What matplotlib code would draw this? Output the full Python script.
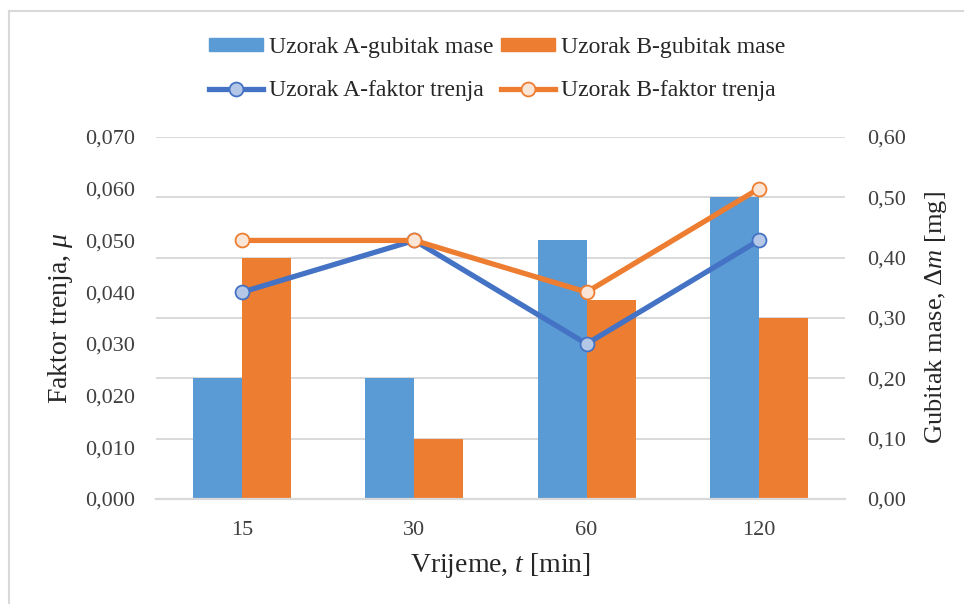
import matplotlib
matplotlib.use("Agg")
import matplotlib.pyplot as plt
import numpy as np
from matplotlib.patches import Patch
from matplotlib.lines import Line2D

plt.rcParams['font.family'] = ['Liberation Serif', 'DejaVu Serif']
plt.rcParams['mathtext.fontset'] = 'custom'
plt.rcParams['mathtext.rm'] = 'Liberation Serif'
plt.rcParams['mathtext.it'] = 'Liberation Serif:italic'

# Data
categories = ['15', '30', '60', '120']
mass_loss_a = [0.20, 0.20, 0.43, 0.50]
mass_loss_b = [0.40, 0.10, 0.33, 0.30]
friction_a = [0.040, 0.050, 0.030, 0.050]
friction_b = [0.050, 0.050, 0.040, 0.060]
left_ticks = [0.000, 0.010, 0.020, 0.030, 0.040, 0.050, 0.060, 0.070]
right_ticks = [0.00, 0.10, 0.20, 0.30, 0.40, 0.50, 0.60]

blue_bar = '#5B9BD5'
orange = '#ED7D31'
blue_line = '#4472C4'
grid_c = '#D9D9D9'
text_c = '#404040'
label_c = '#262626'

LW = 3.8
MS = 10

fig = plt.figure(figsize=(9.64, 6.04), dpi=100)
ax = fig.add_axes([156/964, 1-499/604, (845-156)/964, (499-137)/604])
ax2 = ax.twinx()

x = np.arange(len(categories))
w = 0.284

# bars on the secondary (mass loss) axis
ax2.bar(x - w/2, mass_loss_a, width=w, color=blue_bar, zorder=2)
ax2.bar(x + w/2, mass_loss_b, width=w, color=orange, zorder=2)
ax2.set_ylim(0, 0.60)
ax2.set_yticks(right_ticks)
ax2.set_yticklabels([f"{v:.2f}".replace('.', ',') for v in right_ticks])

# friction lines on the primary axis, drawn above the bars
ax.set_zorder(ax2.get_zorder() + 1)
ax.patch.set_visible(False)
ax.plot(x, friction_a, color=blue_line, lw=LW, marker='o', ms=MS,
        mfc='#B4C7E7', mec=blue_line, mew=1.3, zorder=4, solid_capstyle='round')
ax.plot(x, friction_b, color=orange, lw=LW, marker='o', ms=MS,
        mfc='#FBE5D6', mec=orange, mew=1.3, zorder=4, solid_capstyle='round')
ax.set_ylim(0, 0.070)
ax.set_yticks(left_ticks)
ax.set_yticklabels([f"{v:.3f}".replace('.', ',') for v in left_ticks])
ax.set_xlim(-0.5, len(categories) - 0.5)
ax.set_xticks(x)
ax.set_xticklabels(categories)

# gridlines drawn on the secondary axis so they sit behind the bars
for v in right_ticks[1:]:
    ax2.axhline(v, color=grid_c, lw=1.4, zorder=0)

for a in (ax, ax2):
    for s in a.spines.values():
        s.set_visible(False)
    a.tick_params(length=0, labelsize=16, colors=text_c)
ax.spines['bottom'].set_visible(True)
ax.spines['bottom'].set_color(grid_c)
ax.spines['bottom'].set_linewidth(1.6)
ax.tick_params(axis='y', pad=15)
ax2.tick_params(axis='y', pad=16)
ax.tick_params(axis='x', pad=16)

ax.set_xlabel(r'Vrijeme, $t$ [min]', fontsize=20, color=label_c, labelpad=8)
ax.set_ylabel(r'Faktor trenja, $\mu$', fontsize=20, color=label_c, labelpad=7)
ax2.set_ylabel(r'Gubitak mase, $\Delta m$ [mg]', fontsize=19, color=label_c, labelpad=12)

handles = [
    Patch(color=blue_bar),
    Line2D([], [], color=blue_line, lw=LW, marker='o', ms=MS, mfc='#B4C7E7', mec=blue_line, mew=1.3),
    Patch(color=orange),
    Line2D([], [], color=orange, lw=LW, marker='o', ms=MS, mfc='#FBE5D6', mec=orange, mew=1.3),
]
labels = ['Uzorak A-gubitak mase', 'Uzorak A-faktor trenja',
          'Uzorak B-gubitak mase', 'Uzorak B-faktor trenja']
leg = fig.legend(handles, labels, ncol=2, loc='center', bbox_to_anchor=(497/964, 1-69/604),
                 frameon=False, fontsize=17, handlelength=2.3, handleheight=0.5,
                 labelspacing=0.95, columnspacing=0.3, handletextpad=0.25,
                 borderpad=0, borderaxespad=0)
for t in leg.get_texts():
    t.set_color(label_c)

# outer chart frame (top and left edges)
fig.add_artist(Line2D([9/964, 1], [1-11/604, 1-11/604], color=grid_c, lw=1.5))
fig.add_artist(Line2D([9/964, 9/964], [0, 1-11/604], color=grid_c, lw=1.5))

fig.savefig('out.png', dpi=100)
